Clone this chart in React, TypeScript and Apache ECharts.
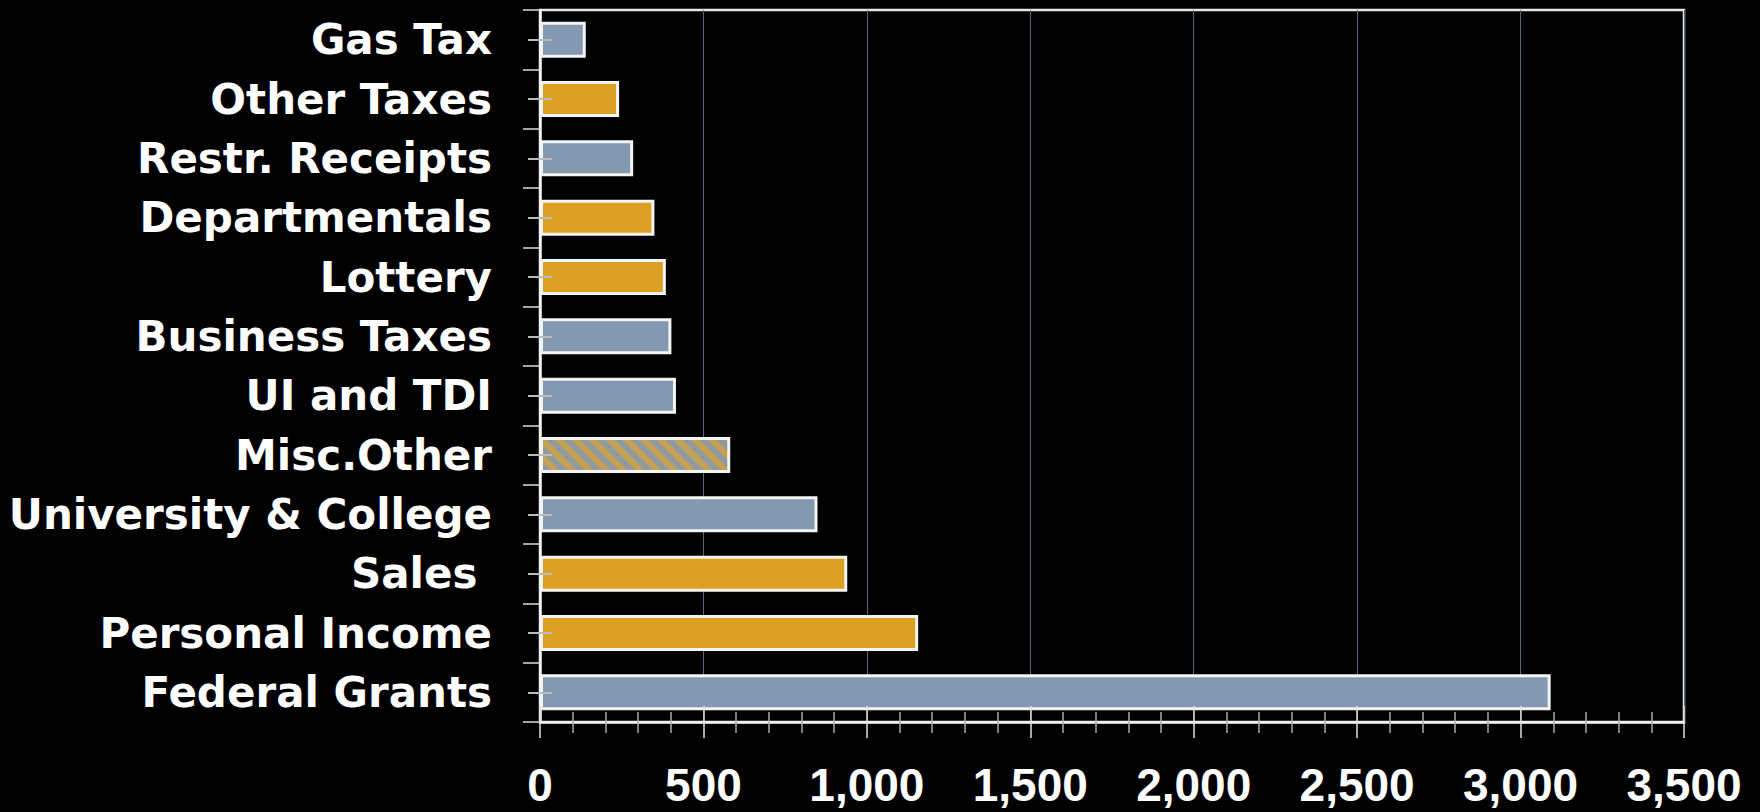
import React, { useEffect, useRef } from "react";
import * as echarts from "echarts";

const categories = [
  "Gas Tax",
  "Other Taxes",
  "Restr. Receipts",
  "Departmentals",
  "Lottery",
  "Business Taxes",
  "UI and TDI",
  "Misc.Other",
  "University & College",
  "Sales ",
  "Personal Income",
  "Federal Grants",
];
const values = [140, 242, 285, 350, 385, 402, 416, 582, 849, 940, 1157, 3092];
const groups = ["blue", "gold", "blue", "gold", "gold", "blue", "blue", "mixed", "blue", "gold", "gold", "blue"];
const xMin = 0;
const xMax = 3500;
const xStep = 500;

const BLUE = "#8299b0";
const GOLD = "#dca024";

function makeStripes(): HTMLCanvasElement {
  const size = 17;
  const c = document.createElement("canvas");
  c.width = size;
  c.height = size;
  const ctx = c.getContext("2d")!;
  const img = ctx.createImageData(size, size);
  const g = [212, 162, 66];
  const b = [132, 152, 176];
  for (let y = 0; y < size; y++) {
    for (let x = 0; x < size; x++) {
      const t = ((((x - y) % size) + size) % size) / size;
      const w = 0.5 + 0.42 * Math.cos(2 * Math.PI * t);
      const i = (y * size + x) * 4;
      img.data[i] = g[0] * w + b[0] * (1 - w);
      img.data[i + 1] = g[1] * w + b[1] * (1 - w);
      img.data[i + 2] = g[2] * w + b[2] * (1 - w);
      img.data[i + 3] = 255;
    }
  }
  ctx.putImageData(img, 0, 0);
  return c;
}

export default function App() {
  const ref = useRef<HTMLDivElement>(null);
  useEffect(() => {
    if (!ref.current) return;
    const chart = echarts.init(ref.current, null, { renderer: "svg" });
    const stripes = makeStripes();
    const colorFor = (g: string) =>
      g === "gold"
        ? GOLD
        : g === "blue"
        ? BLUE
        : ({ image: stripes, repeat: "repeat", imageWidth: 17, imageHeight: 17 } as any);

    const baseX = { type: "value", min: xMin, max: xMax, interval: xStep, position: "bottom" };
    const baseY = { type: "category", data: categories, inverse: true, position: "left" };

    chart.setOption({
      animation: false,
      backgroundColor: "#000",
      grid: {
        left: 540,
        top: 10,
        width: 1144,
        height: 712,
        show: true,
        borderColor: "#e6e6e6",
        borderWidth: 2.5,
        backgroundColor: "transparent",
      },
      xAxis: [
        {
          ...baseX,
          axisLine: { show: true, lineStyle: { color: "#f2f2f2", width: 2.5 } },
          axisTick: { show: true, inside: false, length: 16, lineStyle: { color: "#e0e0e0", width: 1.5 } },
          minorTick: { show: true, splitNumber: 5, length: 11, lineStyle: { color: "#aaaaaa", width: 1.5 } },
          splitLine: { show: true, lineStyle: { color: "#56687a", width: 1 } },
          axisLabel: {
            color: "#ffffff",
            fontSize: 46,
            fontWeight: "bold",
            fontFamily: "Liberation Sans",
            margin: 40,
            formatter: (v: number) => v.toLocaleString("en-US"),
          },
        },
        {
          ...baseX,
          z: 5,
          axisLine: { show: false },
          axisTick: { show: true, inside: true, length: 16, lineStyle: { color: "#e0e0e0", width: 1.5 } },
          minorTick: { show: true, splitNumber: 5, length: 10, lineStyle: { color: "#aaaaaa", width: 1.5 } },
          splitLine: { show: false },
          axisLabel: { show: false },
        },
      ],
      yAxis: [
        {
          ...baseY,
          axisLine: { show: true, lineStyle: { color: "#f2f2f2", width: 2.5 } },
          axisTick: { show: true, inside: false, length: 17, lineStyle: { color: "#dddddd", width: 1.5 } },
          splitLine: { show: false },
          axisLabel: {
            color: "#ffffff",
            fontSize: 42,
            fontWeight: "bold",
            fontFamily: "DejaVu Sans",
            margin: 48,
          },
        },
        {
          ...baseY,
          z: 5,
          axisLine: { show: false },
          axisTick: { show: true, alignWithLabel: true, inside: false, length: 12, lineStyle: { color: "#bbbbbb", width: 2 } },
          axisLabel: { show: false },
          splitLine: { show: false },
        },
        {
          ...baseY,
          z: 5,
          axisLine: { show: false },
          axisTick: { show: true, alignWithLabel: true, inside: true, length: 12, lineStyle: { color: "#bbbbbb", width: 2 } },
          axisLabel: { show: false },
          splitLine: { show: false },
        },
      ],
      series: [
        {
          type: "bar",
          xAxisIndex: 0,
          yAxisIndex: 0,
          barWidth: 36,
          data: values.map((v, i) => ({ value: v, itemStyle: { color: colorFor(groups[i]) } })),
          itemStyle: { borderColor: "#f4f4f4", borderWidth: 3 },
        },
      ],
    });
    return () => chart.dispose();
  }, []);
  return (
    <div
      ref={ref}
      style={{ position: "absolute", left: 0, top: 0, width: 1760, height: 812, background: "#000" }}
    />
  );
}
